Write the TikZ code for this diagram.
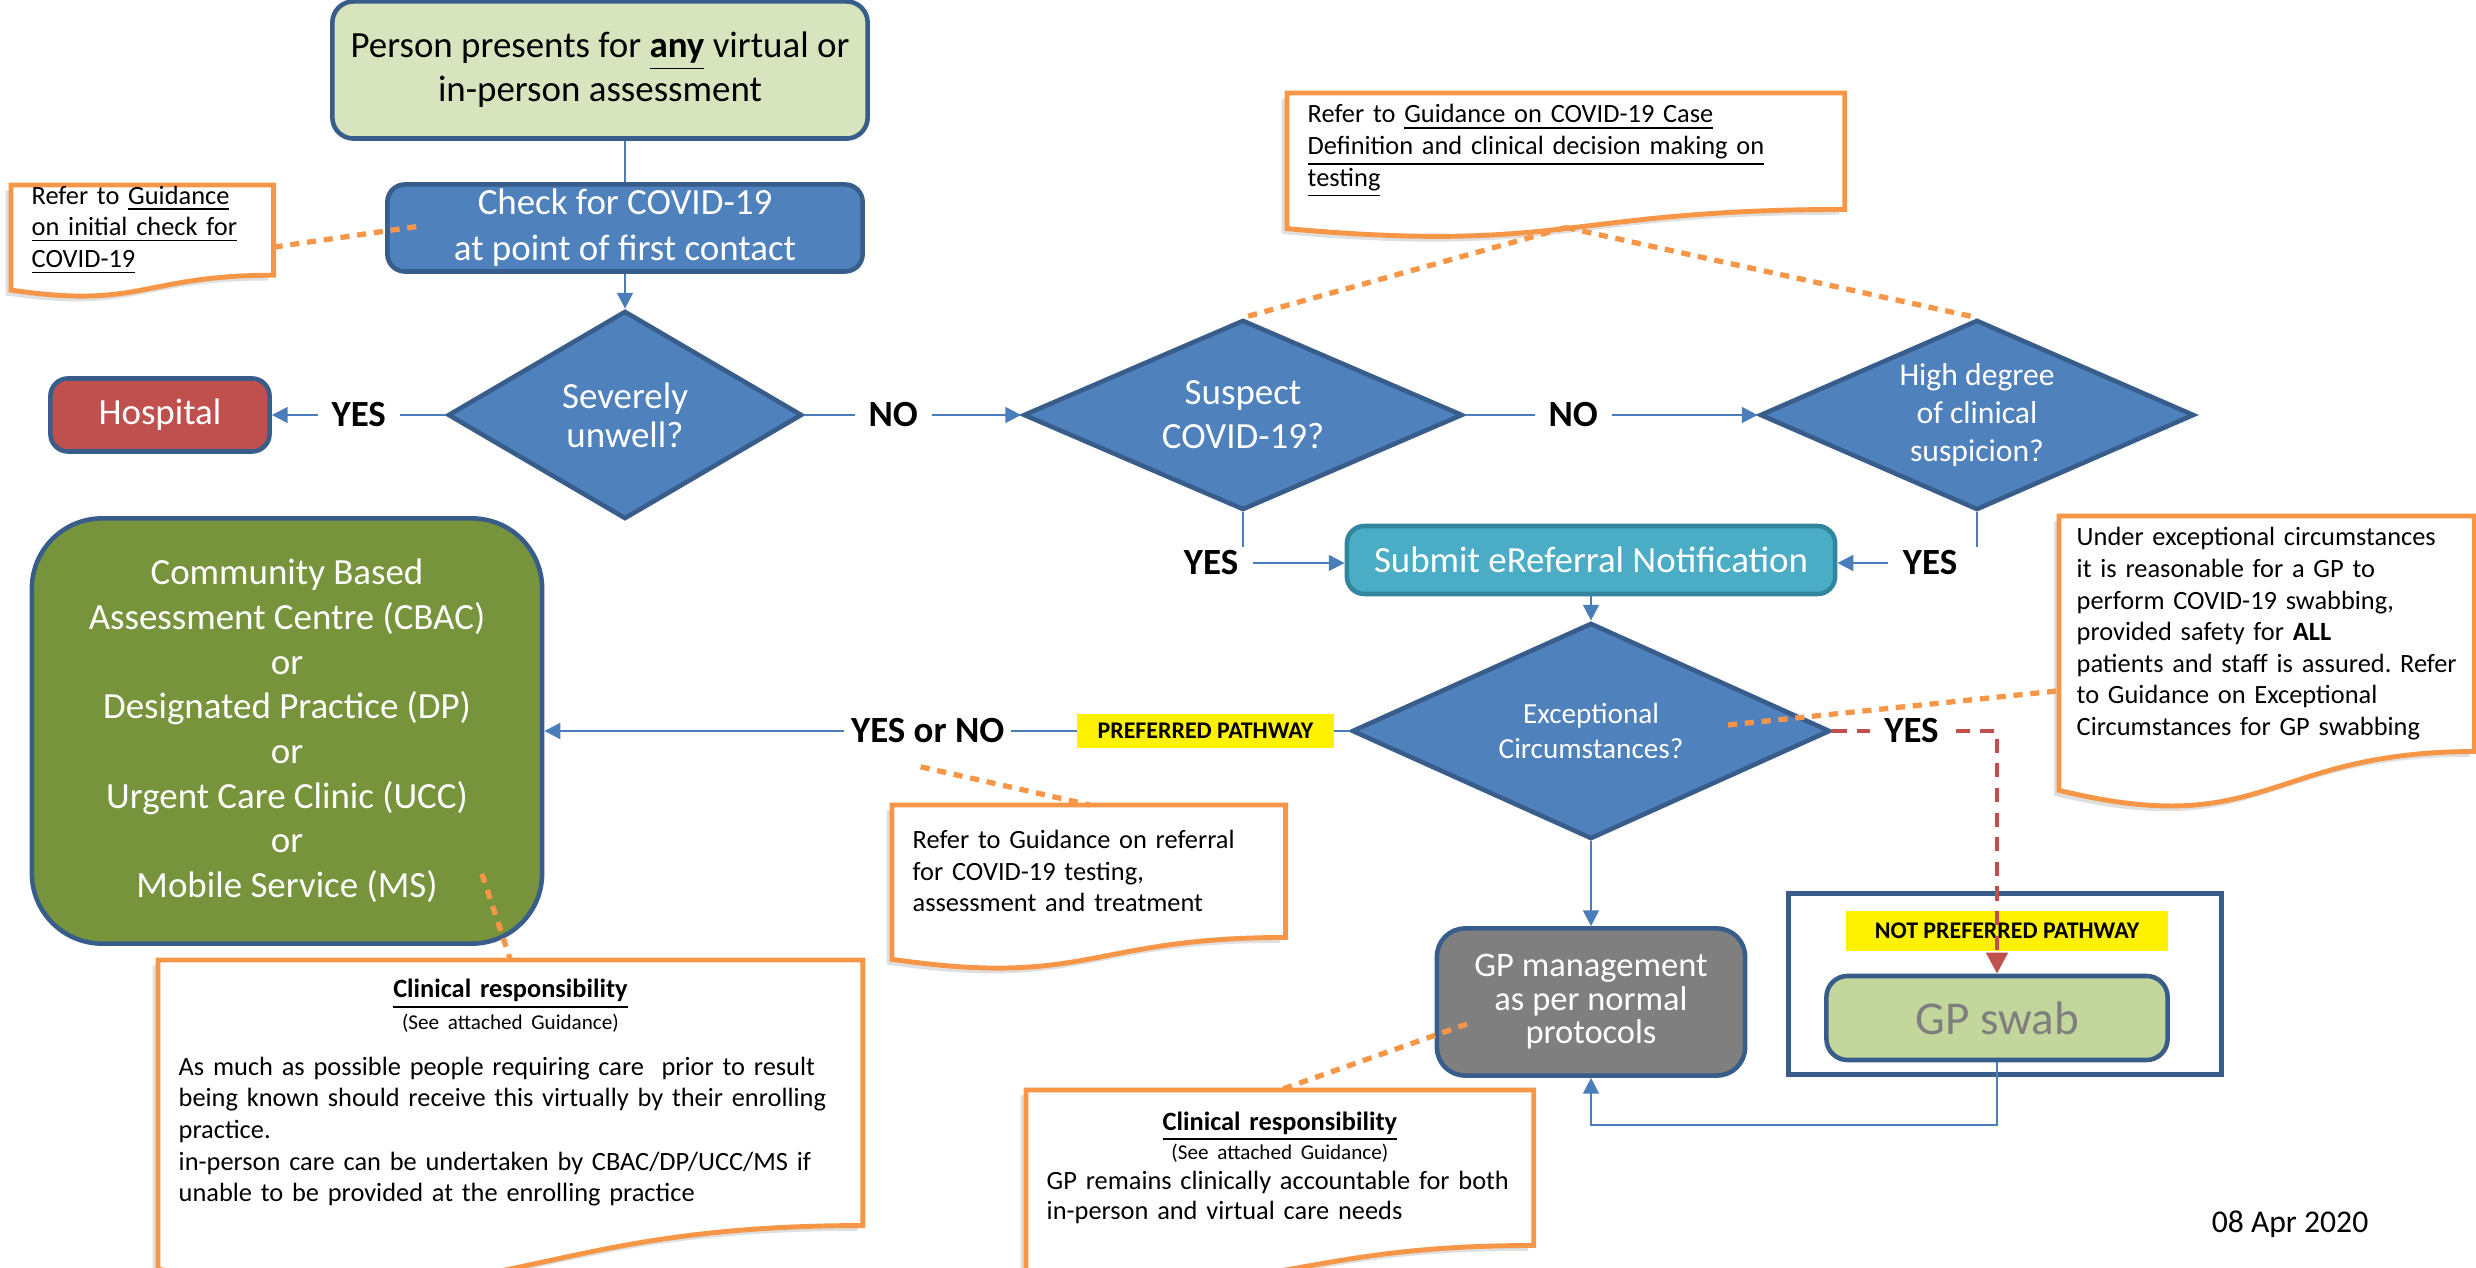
\documentclass[tikz,border=0pt]{standalone}
\usepackage{fontspec}
\setmainfont{Carlito}
\usetikzlibrary{shapes.geometric,positioning,calc,arrows.meta,shadows}

\pgfdeclarelayer{background}
\pgfsetlayers{background,main}

\definecolor{boxblue}{HTML}{4F81BD}
\definecolor{edgeblue}{HTML}{385D8A}
\definecolor{lineblue}{HTML}{4A7EBB}
\definecolor{startgreen}{HTML}{D7E4BD}
\definecolor{hosred}{HTML}{C0504D}
\definecolor{cbacgreen}{HTML}{77933C}
\definecolor{aqua}{HTML}{4BACC6}
\definecolor{aquaedge}{HTML}{31859C}
\definecolor{gpgrey}{HTML}{7F7F7F}
\definecolor{swabgreen}{HTML}{C3D69B}
\definecolor{noteorange}{HTML}{F79646}

% wavy bottom outline drawn behind a note node
\newcommand{\docoutline}[1]{%
  \begin{pgfonlayer}{background}
    \draw[noteline] (#1.north west) -- (#1.north east) -- (#1.south east)
      .. controls (#1.south) and ($(#1.south)!-0.381!(#1.north)$)
      .. ($(#1.south west)!-0.1646!(#1.north west)$) -- cycle;
  \end{pgfonlayer}}

\begin{document}
\begin{tikzpicture}[x=0.01cm,y=-0.01cm,>={Triangle[width=4.5pt,length=4.5pt]},
    box/.style={draw=edgeblue,line width=1.3pt,rounded corners=5pt,align=center,text=white,inner sep=0pt,font=\fontsize{10.5}{12.5}\selectfont},
    decision/.style={diamond,aspect=2,draw=edgeblue,line width=1.3pt,fill=boxblue,align=center,text=white,inner sep=0pt,font=\fontsize{10.5}{12}\selectfont},
    answer/.style={fill=white,inner xsep=4pt,inner ysep=1pt,font=\fontsize{10.5}{12.5}\selectfont\bfseries},
    pathway/.style={fill=yellow,inner sep=0pt,font=\fontsize{6.8}{8}\selectfont\bfseries},
    flow/.style={draw=lineblue,line width=0.6pt},
    redpath/.style={draw=hosred,line width=1.3pt,dash pattern=on 4pt off 3pt,>={Triangle[width=6pt,length=6pt]}},
    note/.style={anchor=north west,align=left,inner xsep=0.2cm,inner ysep=0pt,font=\fontsize{7.5}{9}\selectfont\frenchspacing},
    noteline/.style={draw=noteorange,line width=1.4pt,fill=white,drop shadow={shadow xshift=-1.5pt,shadow yshift=-1.5pt,opacity=0.25}},
    callout/.style={draw=noteorange,line width=1.5pt,dash pattern=on 2.6pt off 2.2pt}]

\useasboundingbox (0,0) rectangle (2476,1268);

\node[box,fill=startgreen,text=black,rounded corners=6pt,minimum width=5.35cm,minimum height=1.37cm] (start) at (600,70) {Person presents for \underline{\textbf{any}} virtual or\\in-person assessment};
\node[box,fill=boxblue,minimum width=4.75cm,minimum height=0.87cm,font=\fontsize{10.5}{13}\selectfont] (check) at (625,228) {Check for COVID-19\\at point of first contact};
\node[decision,minimum width=3.54cm,minimum height=2.08cm,font=\fontsize{10.5}{11}\selectfont] (sev) at (625,415) {Severely\\unwell?};
\node[box,fill=hosred,minimum width=2.19cm,minimum height=0.73cm] (hosp) at (160,415) {Hospital};
\node[decision,minimum width=4.39cm,minimum height=1.90cm,font=\fontsize{10.5}{12.5}\selectfont] (susp) at (1243,415) {Suspect\\COVID-19?};
\node[decision,minimum width=4.34cm,minimum height=1.90cm,font=\fontsize{9}{10.8}\selectfont] (high) at (1977,415) {High degree\\of clinical\\suspicion?};
\node[box,fill=aqua,draw=aquaedge,minimum width=4.88cm,minimum height=0.68cm] (sub) at (1591,560) {Submit eReferral Notification};
\node[decision,minimum width=4.78cm,minimum height=2.16cm,font=\fontsize{8.3}{10}\selectfont] (exc) at (1591,731) {Exceptional\\Circumstances?};
\node[box,fill=cbacgreen,rounded corners=20pt,minimum width=5.10cm,minimum height=4.25cm,font=\fontsize{10.5}{12.7}\selectfont] (cbac) at (287,731) {Community Based\\Assessment Centre (CBAC)\\or\\Designated Practice (DP)\\or\\Urgent Care Clinic (UCC)\\or\\Mobile Service (MS)};
\node[box,fill=gpgrey,rounded corners=8pt,minimum width=3.08cm,minimum height=1.47cm,font=\fontsize{9.8}{9.5}\selectfont] (gpm) at (1591,1002) {GP management\\as per normal\\protocols};
\node[draw=edgeblue,line width=1.6pt,minimum width=4.33cm,minimum height=1.81cm] (swabframe) at (2005,984) {};
\node[pathway,minimum width=3.21cm,minimum height=0.40cm] (notpref) at (2007,931) {NOT PREFERRED PATHWAY};
\node[box,fill=swabgreen,text=gpgrey,rounded corners=6pt,minimum width=3.41cm,minimum height=0.84cm,font=\fontsize{13.4}{15}\selectfont] (swab) at (1997,1018) {GP swab};

\node[answer] (yesL) at (1211,563) {YES};
\node[answer] (yesR) at (1930,563) {YES};

\draw[flow] (check.north |- start.south) -- (check.north);
\draw[flow,->] (check) -- (sev);
\draw[flow,->] (sev) -- node[answer] {YES} (hosp);
\draw[flow,->] (sev) -- node[answer,pos=0.41] {NO} (susp);
\draw[flow,->] (susp) -- node[answer,pos=0.37] {NO} (high);
\draw[flow] (susp.south) -- (susp.south |- yesL.north);
\draw[flow,->] (yesL.east) -- (yesL.east -| sub.west);
\draw[flow] (high.south) -- (high.south |- yesR.north);
\draw[flow,->] (yesR.west) -- (yesR.west -| sub.east);
\draw[flow,->] (sub) -- (exc);
\draw[flow,->] (exc) -- node[pathway,pos=0.179,minimum width=2.57cm,minimum height=0.34cm] {PREFERRED PATHWAY}
                       node[answer,pos=0.524,inner xsep=2pt] (yesno) {YES or NO} (cbac);
\draw[flow,->] (exc) -- (gpm);
\draw[redpath,->] (exc.east) -| node[answer,pos=0.24] {YES} (swab.north);
\draw[flow,->] (swab.south) -- ++(0,63) -| (gpm.south);

% guidance notes
\node[note,text width=2.21cm,minimum height=0.88cm] (initNote) at (11,185) {Refer to \underline{Guidance}\\\underline{on initial check for}\\\underline{COVID-19}};
\docoutline{initNote}
\node[note,text width=5.16cm,minimum height=1.15cm] (caseNote) at (1287,93) {Refer to \underline{Guidance on COVID-19 Case}\\\underline{Definition and clinical decision making on}\\\underline{testing}};
\docoutline{caseNote}
\node[note,text width=3.52cm,minimum height=1.31cm] (referNote) at (892,805) {Refer to Guidance on referral\\for COVID-19 testing,\\assessment and treatment};
\docoutline{referNote}
\node[note,inner xsep=0.17cm,text width=3.80cm,minimum height=2.34cm] (excNote) at (2059,516) {Under exceptional circumstances\\it is reasonable for a GP to\\perform COVID-19 swabbing,\\provided safety for \textbf{ALL}\\patients and staff is assured. Refer\\to Guidance on Exceptional\\Circumstances for GP swabbing};
\docoutline{excNote}
\node[note,text width=6.63cm,minimum height=2.64cm] (respCbac) at (158,960) {{\centering\underline{\textbf{Clinical responsibility}}\\{\fontsize{6}{7.5}\selectfont(See attached Guidance)}\par}\vspace{4pt}
As much as possible people requiring care\ \ prior to result\\being known should receive this virtually by their enrolling\\practice.\\in-person care can be undertaken by CBAC/DP/UCC/MS if\\unable to be provided at the enrolling practice};
\docoutline{respCbac}
\node[note,text width=4.66cm,minimum height=1.54cm,font=\fontsize{7.5}{8.5}\selectfont] (respGp) at (1026,1090) {{\centering\underline{\textbf{Clinical responsibility}}\\{\fontsize{6}{7.5}\selectfont(See attached Guidance)}\par}
GP remains clinically accountable for both\\in-person and virtual care needs};
\docoutline{respGp}

\draw[callout] ($(initNote.east)+(0,17)$) -- ($(check.west)+(36,-2)$);
\draw[callout] ($(caseNote.south)+(0,18)$) -- (susp.north);
\draw[callout] ($(caseNote.south)+(0,18)$) -- (high.north);
\draw[callout] ($(yesno.south)+(-7,19)$) -- ($(referNote.north west)+(198,0)$);
\draw[callout] ($(exc.center)+(137,-6)$) -- ($(excNote.west)+(0,57)$);
\draw[callout] ($(cbac.center)+(195,143)$) -- (respCbac.north);
\draw[callout] ($(gpm.center)+(-124,22)$) -- (respGp.north);

\node[font=\fontsize{9}{11}\selectfont] (date) at (2290,1224) {08 Apr 2020};
\end{tikzpicture}
\end{document}
